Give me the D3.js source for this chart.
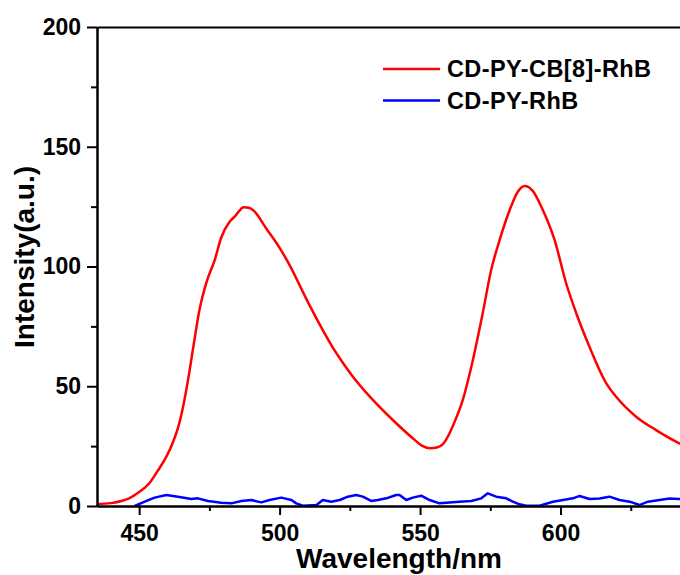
<!DOCTYPE html>
<head>
    <meta charset="utf-8">
    <style>
        body { margin: 0; background: #fff; }
        .axis text { font-family: "Liberation Sans", Arial, sans-serif; font-weight: bold; font-size: 23px; fill: #000; }
        .axis path, .axis line { stroke: #000; stroke-width: 2; }
        .title { font-family: "Liberation Sans", Arial, sans-serif; font-weight: bold; font-size: 28px; }
        .legend text { font-family: "Liberation Sans", Arial, sans-serif; font-weight: bold; font-size: 23.5px; letter-spacing: 0.4px; }
    </style>
</head>
<svg width="680" height="575" class="spectrum"></svg>
<script src="https://cdn.jsdelivr.net/npm/d3@7"></script>
<script>
    // red: CD-PY-CB[8]-RhB as [wavelength, intensity]
    var redWl = [435, 440, 444, 446.6, 450, 453.7, 456.5, 459.7, 462, 464.4, 466, 467.4, 469.5, 471.5, 474, 476.9, 479.2, 482.2, 484, 485.5, 487.2, 489, 490.5, 495.3, 500, 503.6, 509.5, 514.4, 519, 522.5, 526.1, 533.2, 540.3, 547.4, 551, 553.4, 556, 558.1, 560.5, 561.7, 565.2, 568.8, 572.3, 575.3, 578.3, 581.9, 584.8, 587.2, 590.1, 593.7, 597.9, 602, 605.6, 610.3, 616.3, 619.8, 626.9, 634, 642.3, 650];
    var redI = [0.8, 1.2, 2.2, 3.3, 5.8, 9.6, 14.5, 20.6, 26.5, 35, 43.5, 52.6, 68, 82, 93.5, 102.7, 112, 118.7, 120.8, 123, 124.7, 124.5, 123.6, 115.8, 107.8, 100.5, 86.5, 75.5, 66, 59.8, 54, 44.3, 35.9, 28.3, 25, 24.1, 24.4, 25.8, 30.4, 33.5, 44.3, 61, 80.5, 98.5, 111, 123.6, 131.2, 133.6, 131.6, 123.6, 111, 93, 80.5, 66.5, 51.2, 45.6, 37.3, 31.7, 26.2, 22.5];

    // blue: CD-PY-RhB
    var blueWl = [448.4, 452, 455.5, 459.7, 463.8, 468.6, 470.9, 474.5, 479.2, 482.8, 486.4, 489.9, 493.5, 496.4, 500.6, 504.2, 505.9, 508.3, 513.1, 515.4, 518.4, 521.4, 524.3, 527.3, 529.6, 532.6, 535, 538, 541.5, 542.7, 545.1, 547.4, 550.4, 553.4, 556.9, 560.5, 564, 568.2, 571.8, 574.1, 577.1, 580.7, 583, 585.4, 587.8, 592.5, 597.3, 600.9, 604.4, 606.8, 610.3, 613.9, 617.4, 621, 624.6, 628.1, 631.1, 635.2, 638.8, 642.3, 650];
    var blueI = [0, 1.8, 3.5, 4.6, 3.9, 2.9, 3.2, 2.1, 1.4, 1.1, 2.1, 2.5, 1.5, 2.5, 3.5, 2.5, 1.1, 0.1, 0.4, 2.5, 1.8, 2.5, 3.9, 4.6, 3.9, 2.1, 2.5, 3.2, 4.6, 4.6, 2.5, 3.5, 4.3, 2.5, 1.1, 1.5, 1.8, 2.1, 3.2, 5.3, 3.9, 3.2, 1.8, 0.7, 0.1, 0.1, 1.8, 2.5, 3.2, 4.2, 2.9, 3.1, 3.9, 2.5, 1.8, 0.4, 1.8, 2.5, 3.1, 2.9, 2.7];

    var xMajor = [450, 500, 550, 600],
        xMinor = [475, 525, 575, 625],
        yMajor = [0, 50, 100, 150, 200],
        yMinor = [25, 75, 125, 175];

    var seriesNames = ["CD-PY-CB[8]-RhB", "CD-PY-RhB"],
        seriesColors = ["#ff0000", "#0000ff"];

    var svg = d3.select(".spectrum"),
        plotLeft = 97, plotRight = 701, plotTop = 27, plotBottom = 506;

    var x = d3.scaleLinear().domain([435, 650]).range([plotLeft, plotRight]),
        y = d3.scaleLinear().domain([0, 200]).range([plotBottom, plotTop]);

    svg.append("defs").append("clipPath").attr("id", "plot")
        .append("rect")
        .attr("x", plotLeft).attr("y", plotTop)
        .attr("width", plotRight - plotLeft).attr("height", plotBottom - plotTop);

    var line = d3.line()
        .x(function(d) { return x(d[0]); })
        .y(function(d) { return y(d[1]); });

    var series = [
        d3.zip(redWl, redI),
        d3.zip(blueWl, blueI)
    ];

    svg.append("g").attr("clip-path", "url(#plot)")
        .selectAll("path")
        .data(series)
        .enter().append("path")
        .attr("fill", "none")
        .attr("stroke", function(d, i) { return seriesColors[i]; })
        .attr("stroke-width", 2.5)
        .attr("stroke-linejoin", "round")
        .attr("d", function(d, i) { return i === 0 ? line.curve(d3.curveMonotoneX)(d) : line.curve(d3.curveLinear)(d); });

    // bottom axis
    svg.append("g")
        .attr("class", "axis")
        .attr("transform", "translate(0," + plotBottom + ")")
        .call(d3.axisBottom(x).tickValues(xMajor).tickSize(9).tickSizeOuter(0).tickPadding(10));
    svg.append("g")
        .attr("class", "axis")
        .attr("transform", "translate(0," + plotBottom + ")")
        .call(d3.axisBottom(x).tickValues(xMinor).tickSize(5).tickSizeOuter(0).tickFormat(""));

    // left axis
    svg.append("g")
        .attr("class", "axis")
        .attr("transform", "translate(" + plotLeft + ",0)")
        .call(d3.axisLeft(y).tickValues(yMajor).tickSize(10).tickSizeOuter(0).tickPadding(6));
    svg.append("g")
        .attr("class", "axis")
        .attr("transform", "translate(" + plotLeft + ",0)")
        .call(d3.axisLeft(y).tickValues(yMinor).tickSize(6).tickSizeOuter(0).tickFormat(""));

    // top frame line
    svg.append("g")
        .attr("class", "axis")
        .attr("transform", "translate(0," + plotTop + ")")
        .call(d3.axisTop(x).tickValues([]).tickSizeOuter(0));

    svg.append("text")
        .attr("class", "title")
        .attr("x", 399).attr("y", 568)
        .attr("text-anchor", "middle")
        .text("Wavelength/nm");

    svg.append("text")
        .attr("class", "title")
        .attr("transform", "rotate(-90)")
        .attr("x", -257).attr("y", 34)
        .attr("text-anchor", "middle")
        .text("Intensity(a.u.)");

    var legend = svg.append("g").attr("class", "legend")
        .selectAll("g")
        .data(seriesNames)
        .enter().append("g")
        .attr("transform", function(d, i) { return "translate(383," + (69 + i * 31.5) + ")"; });

    legend.append("line")
        .attr("x1", 0).attr("x2", 57)
        .attr("stroke", function(d, i) { return seriesColors[i]; })
        .attr("stroke-width", 2.5);

    legend.append("text")
        .attr("x", 64).attr("y", 8)
        .text(function(d) { return d; });
</script>
